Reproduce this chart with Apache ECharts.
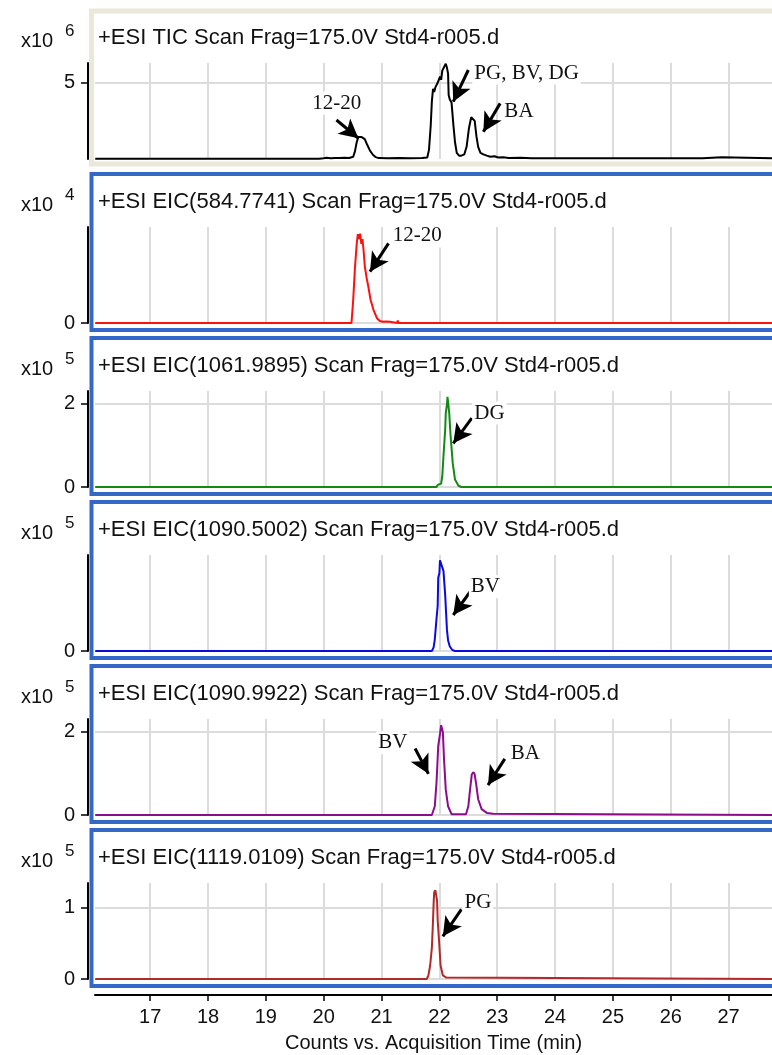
<!DOCTYPE html>
<html>
<head>
<meta charset="utf-8">
<title>TIC / EIC chromatograms</title>
<script src="https://cdn.jsdelivr.net/npm/echarts@6/dist/echarts.min.js"></script>
<style>
  html, body { margin: 0; padding: 0; background: #fff; }
  #chart { width: 772px; height: 1055px; }
</style>
</head>
<body>
<div id="chart"></div>
<script>
// acquisition time axis (min)
const timeRange = [16.046, 27.75];
const timeTicks = [17, 18, 19, 20, 21, 22, 23, 24, 25, 26, 27];

const titles = [
  '+ESI TIC Scan Frag=175.0V Std4-r005.d',
  '+ESI EIC(584.7741) Scan Frag=175.0V Std4-r005.d',
  '+ESI EIC(1061.9895) Scan Frag=175.0V Std4-r005.d',
  '+ESI EIC(1090.5002) Scan Frag=175.0V Std4-r005.d',
  '+ESI EIC(1090.9922) Scan Frag=175.0V Std4-r005.d',
  '+ESI EIC(1119.0109) Scan Frag=175.0V Std4-r005.d'
];
const exponents = ['6', '4', '5', '5', '5', '5'];
const countMax = [6.3, 4, 2.31, 3.2, 2.31, 1.35];
const countTicks = [[5], [0], [0, 2], [0], [0, 2], [0, 1]];

// [time, counts] (counts in units of the panel's x10^n)
const ticTrace = [[16.05,0.02],[19.92,0.02],[19.94,0.07],[20.0,0.05],[20.05,0.08],[20.12,0.05],[20.2,0.07],[20.28,0.06],[20.36,0.08],[20.44,0.07],[20.51,0.15],[20.54,0.5],[20.57,1.1],[20.6,1.45],[20.62,1.55],[20.65,1.45],[20.68,1.5],[20.71,1.3],[20.75,0.95],[20.8,0.55],[20.85,0.28],[20.9,0.12],[20.95,0.06],[21.1,0.05],[21.3,0.06],[21.5,0.05],[21.7,0.06],[21.79,0.1],[21.82,0.6],[21.85,2.2],[21.87,3.8],[21.89,4.6],[21.91,4.4],[21.93,4.7],[21.95,4.6],[21.97,5.0],[21.99,5.1],[22.01,5.4],[22.03,5.2],[22.05,5.8],[22.07,5.9],[22.09,6.1],[22.11,6.25],[22.13,6.0],[22.15,5.6],[22.16,4.2],[22.18,3.9],[22.21,3.7],[22.24,2.3],[22.27,1.1],[22.3,0.4],[22.34,0.22],[22.38,0.22],[22.43,0.3],[22.47,0.8],[22.51,2.0],[22.55,2.75],[22.58,2.85],[22.61,2.5],[22.64,1.5],[22.67,0.8],[22.71,0.4],[22.76,0.3],[22.82,0.22],[22.88,0.15],[22.95,0.18],[23.02,0.1],[23.1,0.12],[23.2,0.07],[23.4,0.08],[23.6,0.05],[25.6,0.05],[25.62,0.12],[25.66,0.05],[26.55,0.05],[26.57,0.12],[26.88,0.12],[26.9,0.05],[27.75,0.05]];
const eic584 = [[16.05,0],[20.48,0],[20.51,0.97],[20.54,2.3],[20.57,3.28],[20.59,3.7],[20.61,3.5],[20.63,3.72],[20.65,3.3],[20.67,3.5],[20.69,3.0],[20.71,2.37],[20.74,1.9],[20.77,1.53],[20.81,0.97],[20.86,0.55],[20.92,0.2],[20.97,0.08],[21.02,0.05],[21.08,0.06],[21.14,0.05],[21.15,0],[21.27,0],[21.28,0.1],[21.29,0],[27.75,0]];
const eic1061 = [[16.05,0],[21.95,0],[21.97,0.05],[22.03,0.08],[22.05,0.26],[22.07,0.74],[22.1,1.38],[22.11,1.78],[22.13,1.98],[22.14,2.17],[22.16,2.15],[22.17,1.78],[22.19,1.3],[22.23,0.58],[22.27,0.18],[22.33,0.03],[22.38,0],[27.75,0]];
const eic1090a = [[16.05,0],[21.87,0],[21.9,0.12],[21.92,0.38],[21.95,1.07],[21.97,1.5],[21.98,2.44],[22.0,2.6],[22.01,3.02],[22.03,3.05],[22.04,3.0],[22.07,2.67],[22.1,1.87],[22.13,0.72],[22.15,0.35],[22.18,0.15],[22.22,0.04],[22.27,0],[27.75,0]];
const eic1090b = [[16.05,0],[21.87,0],[21.92,0.21],[21.95,0.78],[21.98,1.66],[22.01,1.95],[22.03,2.16],[22.06,1.99],[22.08,1.34],[22.11,0.61],[22.15,0.21],[22.21,0.02],[22.46,0.02],[22.5,0.21],[22.53,0.61],[22.56,0.98],[22.59,1.03],[22.61,0.98],[22.64,0.7],[22.67,0.38],[22.73,0.14],[22.82,0.05],[22.93,0.03],[22.95,0],[27.75,0]];
const eic1119 = [[16.05,0],[21.78,0],[21.81,0.05],[21.84,0.19],[21.87,0.44],[21.89,0.83],[21.9,1.06],[21.91,1.22],[21.93,1.25],[21.94,1.2],[21.96,1.1],[21.97,0.83],[22.0,0.46],[22.02,0.19],[22.06,0.05],[22.12,0.02],[22.15,0],[27.75,0]];

const traces = [ticTrace, eic584, eic1061, eic1090a, eic1090b, eic1119];
const traceColors = ['#000000', '#ff1010', '#138a13', '#0a0ae0', '#8c0c8c', '#b02a2a'];

// peak notes: panel, text, text anchor, arrow tail, arrow tip
const peakNotes = [
  [0, '12-20', [19.76, 3.67], [20.22, 2.56], [20.60, 1.36]],
  [0, 'PG, BV, DG', [22.56, 5.64], [22.50, 5.84], [22.24, 3.76]],
  [0, 'BA', [23.08, 3.10], [23.05, 3.65], [22.76, 1.79]],
  [1, '12-20', [21.15, 3.63], [21.12, 3.32], [20.80, 2.14]],
  [2, 'DG', [22.56, 1.78], [22.56, 1.66], [22.24, 1.05]],
  [3, 'BV', [22.50, 2.14], [22.56, 2.05], [22.24, 1.2]],
  [4, 'BV', [20.90, 1.74], [21.58, 1.60], [21.81, 0.99]],
  [4, 'BA', [23.19, 1.49], [23.13, 1.35], [22.84, 0.72]],
  [5, 'PG', [22.39, 1.08], [22.38, 0.98], [22.06, 0.6]]
];

const SANS = 'Liberation Sans, Arial, sans-serif';
const SERIF = 'Liberation Serif, Times New Roman, serif';
const PITCH = 164;

const grids = [], xAxes = [], yAxes = [], series = [], graphics = [];

traces.forEach((trace, i) => {
  const last = i === traces.length - 1;
  const notes = peakNotes.filter(n => n[0] === i);

  grids.push({ left: 95, right: 0, top: 63 + PITCH * i, height: 96 });

  xAxes.push({
    type: 'value', gridIndex: i,
    min: timeRange[0], max: timeRange[1],
    offset: last ? 16 : 0,
    axisLine: { show: last, onZero: false, lineStyle: { color: '#000', width: 2 } },
    axisTick: { show: last, length: 6, customValues: timeTicks, lineStyle: { color: '#000', width: 1.5 } },
    axisLabel: { show: last, customValues: timeTicks, fontSize: 20, color: '#111', margin: 12, fontFamily: SANS },
    splitLine: { show: true, lineStyle: { color: '#dcdcdc', width: 2 } },
    name: last ? 'Counts vs. Acquisition Time (min)' : '',
    nameLocation: 'middle', nameGap: 38,
    nameTextStyle: { fontSize: 20, color: '#111', fontFamily: SANS }
  });

  yAxes.push({
    type: 'value', gridIndex: i,
    min: 0, max: countMax[i],
    offset: 7,
    axisLine: { show: true, onZero: false, lineStyle: { color: '#000', width: 2 } },
    axisTick: { show: true, length: 7, customValues: countTicks[i], lineStyle: { color: '#000', width: 1.5 } },
    axisLabel: { customValues: countTicks[i], fontSize: 20, color: '#111', margin: 13, fontFamily: SANS },
    splitLine: { show: true, lineStyle: { color: '#dcdcdc', width: 2 } }
  });

  series.push({
    type: 'line', xAxisIndex: i, yAxisIndex: i,
    data: trace, showSymbol: false, silent: true, clip: false,
    lineStyle: { color: traceColors[i], width: 2 },
    markLine: {
      silent: true, animation: false,
      symbol: ['none', 'arrow'], symbolSize: [15, 19],
      lineStyle: { color: '#000', width: 3, type: 'solid' },
      label: { show: false },
      data: notes.map(n => [{ coord: n[3] }, { coord: n[4] }])
    },
    markPoint: {
      silent: true, animation: false,
      symbol: 'circle', symbolSize: 1,
      itemStyle: { color: 'rgba(0,0,0,0)' },
      label: {
        show: true, position: 'right', distance: 0, formatter: '{b}',
        fontFamily: SERIF, fontSize: 21, color: '#111',
        backgroundColor: '#fff', padding: [1, 2]
      },
      data: notes.map(n => ({ name: n[1], coord: n[2] }))
    }
  });

  // panel frame
  graphics.push(i === 0
    ? { type: 'rect', shape: { x: 91.5, y: 11, width: 700, height: 153 },
        style: { fill: 'none', stroke: '#ebe7da', lineWidth: 5 } }
    : { type: 'rect', shape: { x: 91.5, y: 174 + PITCH * (i - 1), width: 700, height: 156 },
        style: { fill: 'none', stroke: '#3468c6', lineWidth: 4 } });

  graphics.push({ type: 'text', x: 98, y: 38 + PITCH * i,
    style: { text: titles[i], fontSize: 22, fontFamily: SANS, fill: '#111', verticalAlign: 'middle' } });
  graphics.push({ type: 'text', x: 21, y: 41 + PITCH * i,
    style: { text: 'x10', fontSize: 20, fontFamily: SANS, fill: '#111', verticalAlign: 'middle' } });
  graphics.push({ type: 'text', x: 65, y: 31 + PITCH * i,
    style: { text: exponents[i], fontSize: 17, fontFamily: SANS, fill: '#111', verticalAlign: 'middle' } });
});

const chart = echarts.init(document.getElementById('chart'));
chart.setOption({
  animation: false,
  backgroundColor: '#fff',
  grid: grids,
  xAxis: xAxes,
  yAxis: yAxes,
  series: series,
  graphic: graphics
});
</script>
</body>
</html>
